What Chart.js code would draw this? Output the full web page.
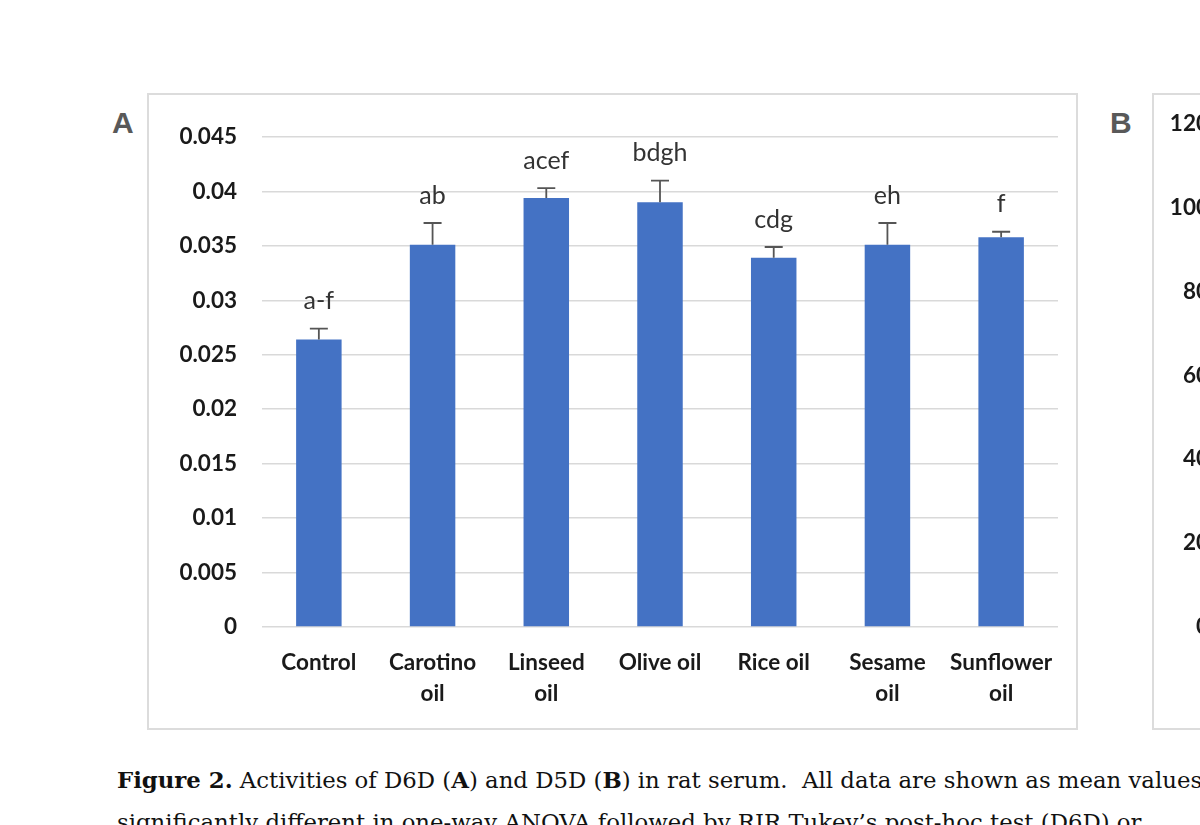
<!DOCTYPE html>
<html>
<head>
<meta charset="utf-8">
<script src="https://cdn.jsdelivr.net/npm/chart.js@4/dist/chart.umd.min.js"></script>
<style>
  html, body { margin: 0; padding: 0; background: #fff; }
  #page { position: relative; width: 1200px; height: 825px; overflow: hidden; background: #fff; }
  .panel { position: absolute; border: 2px solid #dcdcdc; background: #fff; }
  .panel canvas { display: block; }
  .tag { position: absolute; font: bold 30px "Liberation Sans", Arial, sans-serif; color: #595959; }
  #caption { position: absolute; left: 117px; top: 759px; width: 1400px; white-space: nowrap;
             font: 22.8px "DejaVu Serif", serif; line-height: 42px; color: #111; }
</style>
</head>
<body>
<div id="page">
  <div class="tag" style="left:112px; top:106px;">A</div>
  <div class="panel" style="left:147px; top:93px;">
    <canvas id="chartA" width="927" height="633"></canvas>
  </div>
  <div class="tag" style="left:1110px; top:106px;">B</div>
  <div class="panel" style="left:1152px; top:93px;">
    <canvas id="chartB" width="927" height="633"></canvas>
  </div>
  <div id="caption">
    <b>Figure 2.</b> Activities of D6D (<b>A</b>) and D5D (<b>B</b>) in rat serum.&nbsp; All data are shown as mean values<br>
    significantly different in one-way ANOVA followed by RIR Tukey’s post-hoc test (D6D) or
  </div>
</div>
<script>
// D6D activity (panel A)
const oils = [["Control"], ["Carotino", "oil"], ["Linseed", "oil"], ["Olive oil"], ["Rice oil"], ["Sesame", "oil"], ["Sunflower", "oil"]];
const d6dMean = [0.0264, 0.0351, 0.0394, 0.0390, 0.0339, 0.0351, 0.0358];
const d6dErr = [0.0010, 0.0020, 0.0009, 0.0020, 0.0010, 0.0020, 0.0005];
const d6dLetters = ["a-f", "ab", "acef", "bdgh", "cdg", "eh", "f"];

// panel B ticks only (its bars are outside the crop)
const d5dTicks = [0, 20, 40, 60, 80, 100, 120];

const blue = "#4472c4";
const gridGray = "#d9d9d9";

// error bars + significance letters
const errorBars = {
  id: "errorBars",
  afterDatasetsDraw(chart) {
    const opts = chart.options.plugins.errorBars;
    if (!opts || !opts.err) return;
    const ctx = chart.ctx;
    const meta = chart.getDatasetMeta(0);
    const y = chart.scales.y;
    ctx.save();
    meta.data.forEach((bar, i) => {
      const top = y.getPixelForValue(chart.data.datasets[0].data[i] + opts.err[i]);
      ctx.strokeStyle = "#555";
      ctx.lineWidth = 1.8;
      ctx.beginPath();
      ctx.moveTo(bar.x, bar.y);
      ctx.lineTo(bar.x, top);
      ctx.moveTo(bar.x - 9, top);
      ctx.lineTo(bar.x + 9, top);
      ctx.stroke();
      ctx.fillStyle = "#333";
      ctx.font = "25px Lato, 'Open Sans', sans-serif";
      ctx.textAlign = "center";
      ctx.textBaseline = "bottom";
      ctx.fillText(opts.letters[i], bar.x, top - 15);
    });
    ctx.restore();
  }
};

new Chart(document.getElementById("chartA"), {
  type: "bar",
  data: {
    labels: oils,
    datasets: [{
      data: d6dMean,
      backgroundColor: blue,
      barPercentage: 0.4,
      categoryPercentage: 1
    }]
  },
  options: {
    responsive: false,
    animation: false,
    devicePixelRatio: 1,
    layout: { padding: { top: 42, right: 18, bottom: 0, left: 0 } },
    plugins: {
      legend: { display: false },
      tooltip: { enabled: false },
      errorBars: { err: d6dErr, letters: d6dLetters }
    },
    scales: {
      x: {
        grid: { display: false },
        border: { display: false },
        ticks: {
          color: "#1a1a1a",
          font: { family: "Lato", size: 22.5, weight: "bold", lineHeight: 1.38 },
          padding: 12,
          maxRotation: 0,
          autoSkip: false
        },
        afterFit(axis) { axis.height = 101; }
      },
      y: {
        min: 0,
        max: 0.045,
        grid: { color: gridGray, lineWidth: 1.6, drawTicks: false },
        border: { display: false },
        ticks: {
          stepSize: 0.005,
          color: "#1a1a1a",
          padding: 25,
          font: { family: "Lato", size: 22.5, weight: "bold" },
          callback: v => String(+v.toFixed(3))
        },
        afterFit(axis) { axis.width = 113; }
      }
    }
  },
  plugins: [errorBars]
});

new Chart(document.getElementById("chartB"), {
  type: "bar",
  data: {
    labels: oils,
    datasets: [{ data: [], backgroundColor: blue }]
  },
  options: {
    responsive: false,
    animation: false,
    devicePixelRatio: 1,
    layout: { padding: { top: 27, right: 18, bottom: 0, left: 0 } },
    plugins: { legend: { display: false }, tooltip: { enabled: false } },
    scales: {
      x: {
        grid: { display: false },
        border: { display: false },
        ticks: { display: false },
        afterFit(axis) { axis.height = 101; }
      },
      y: {
        min: d5dTicks[0],
        max: d5dTicks[d5dTicks.length - 1],
        grid: { display: false },
        border: { display: false },
        ticks: {
          stepSize: 20,
          color: "#1a1a1a",
          padding: 15,
          font: { family: "Lato", size: 22.5, weight: "bold" }
        },
        afterFit(axis) { axis.width = 78; }
      }
    }
  }
});
</script>
</body>
</html>
